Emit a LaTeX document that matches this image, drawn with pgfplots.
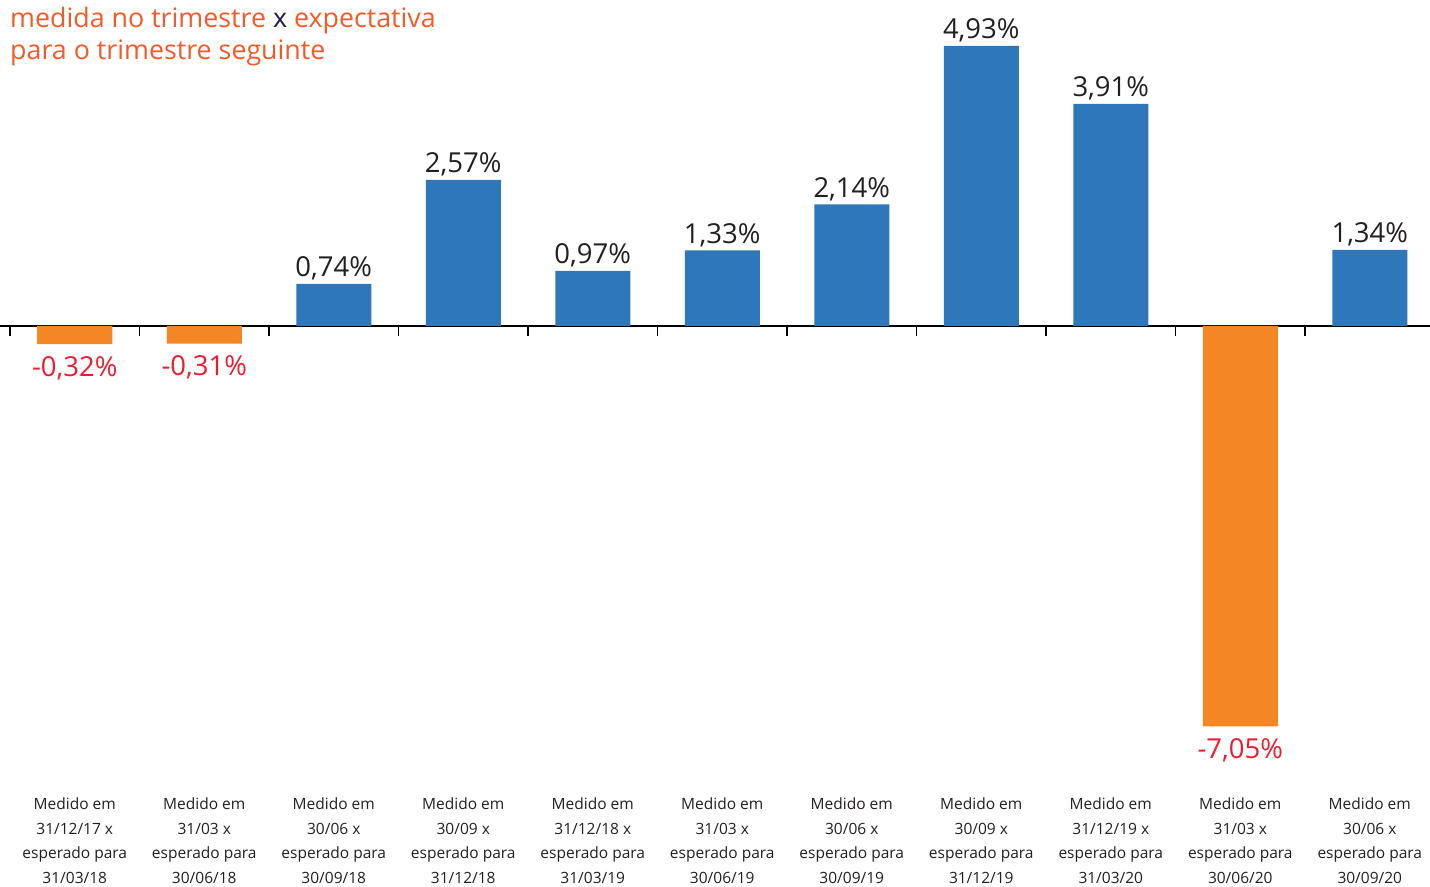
\documentclass[border=0pt]{standalone}
\usepackage{fontspec}
\setmainfont{Open Sans}
\usepackage{pgfplots}
\pgfplotsset{compat=1.18}
\definecolor{barblue}{HTML}{2E77BA}
\definecolor{barorange}{HTML}{F58624}
\definecolor{negred}{HTML}{ED1C2E}
\definecolor{titleorange}{HTML}{F15A29}
\definecolor{navy}{HTML}{1B1B4B}
\definecolor{txt}{HTML}{231F20}
\begin{document}
\begin{tikzpicture}
\begin{axis}[
  scale only axis, width=1430pt, height=886pt,
  xmin=-0.5772, xmax=10.465, ymin=-9.859, ymax=5.739,
  axis y line=none, axis x line*=middle,
  x axis line style={line width=1.6pt, black},
  clip=false,
  xtick={0,...,10},
  xticklabels={
    {Medido em\\31/12/17 x\\esperado para\\31/03/18},
    {Medido em\\31/03 x\\esperado para\\30/06/18},
    {Medido em\\30/06 x\\esperado para\\30/09/18},
    {Medido em\\30/09 x\\esperado para\\31/12/18},
    {Medido em\\31/12/18 x\\esperado para\\31/03/19},
    {Medido em\\31/03 x\\esperado para\\30/06/19},
    {Medido em\\30/06 x\\esperado para\\30/09/19},
    {Medido em\\30/09 x\\esperado para\\31/12/19},
    {Medido em\\31/12/19 x\\esperado para\\31/03/20},
    {Medido em\\31/03 x\\esperado para\\30/06/20},
    {Medido em\\30/06 x\\esperado para\\30/09/20}},
  major x tick style={draw=none},
  minor xtick={-0.5,0.5,...,10.5},
  minor x tick style={line width=1.6pt, black},
  tick align=outside, minor tick length=10pt,
  xticklabel style={align=center, font=\fontsize{15.5}{24.6}\selectfont, text=txt, yshift=-464pt},
  nodes near coords, point meta=explicit symbolic,
]
\addplot[ybar, bar width=75pt, bar shift=0pt, fill=barblue, draw=none,
  nodes near coords style={font=\fontsize{27.5}{33}\selectfont, text=txt, yshift=0pt}]
  coordinates {(2,0.74)[0,74\%] (3,2.57)[2,57\%] (4,0.97)[0,97\%] (5,1.33)[1,33\%]
               (6,2.14)[2,14\%] (7,4.93)[4,93\%] (8,3.91)[3,91\%] (10,1.34)[1,34\%]};
\addplot[ybar, bar width=75pt, bar shift=0pt, fill=barorange, draw=none,
  nodes near coords style={font=\fontsize{27.5}{33}\selectfont, text=negred, anchor=north, yshift=-8.5pt}]
  coordinates {(0,-0.32)[-0,32\%] (1,-0.31)[-0,31\%] (9,-7.05)[-7,05\%]};
\node[anchor=north west, align=left, inner sep=0pt, font=\fontsize{26.8}{31.5}\selectfont, text=titleorange]
  at (rel axis cs:0.007,0.992)
  {medida no trimestre {\color{navy}x} expectativa\\para o trimestre seguinte};
\end{axis}
\pgfresetboundingbox
\useasboundingbox (current axis.south west) rectangle (current axis.north east);
\end{tikzpicture}
\end{document}
